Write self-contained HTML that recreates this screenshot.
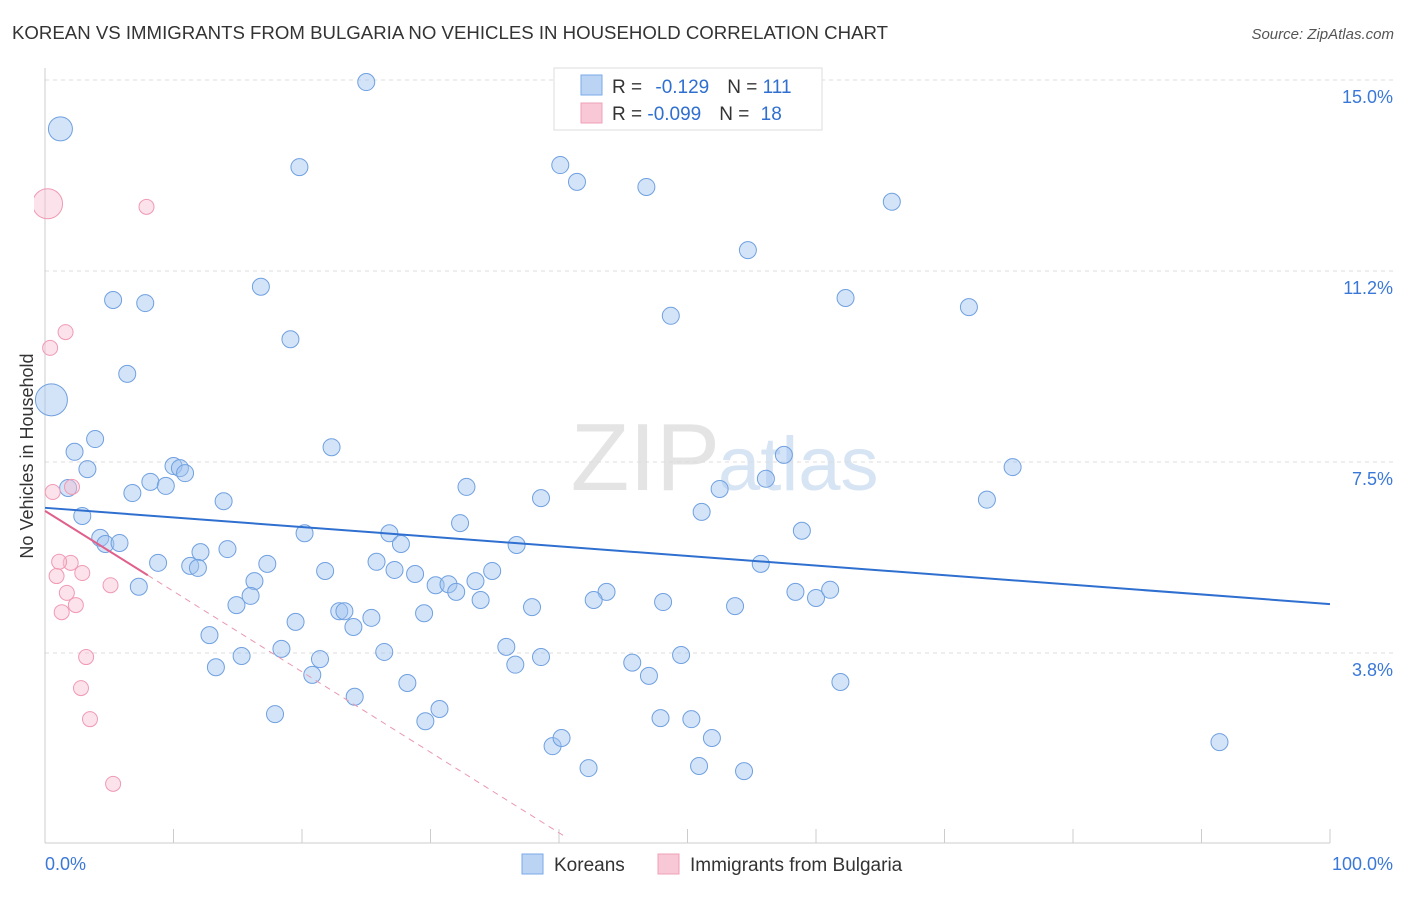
<!DOCTYPE html>
<html><head><meta charset="utf-8"><style>
body{margin:0;background:#fff;font-family:"Liberation Sans",sans-serif;}
svg text{font-family:"Liberation Sans",sans-serif;}
</style></head><body>
<svg id="chart" width="1406" height="892" xmlns="http://www.w3.org/2000/svg">
<defs><clipPath id="plotclip"><rect x="34" y="60" width="1370" height="784"/></clipPath></defs>
<text x="12" y="39" font-size="18" fill="#333" textLength="876" lengthAdjust="spacingAndGlyphs">KOREAN VS IMMIGRANTS FROM BULGARIA NO VEHICLES IN HOUSEHOLD CORRELATION CHART</text>
<text x="1394" y="39" font-size="15" fill="#555" font-style="italic" text-anchor="end">Source: ZipAtlas.com</text>
<text x="33" y="456" font-size="18" fill="#333" text-anchor="middle" transform="rotate(-90 33 456)">No Vehicles in Household</text>
<text x="720" y="490" font-size="96" fill="#e4e4e4" text-anchor="end" font-family="Liberation Serif">ZIP</text>
<text x="718" y="490" font-size="76" fill="#d6e4f4">atlas</text>
<g id="grid"></g><g id="axes"></g><g id="marks" clip-path="url(#plotclip)"></g>
<g>
<rect x="554" y="68" width="268" height="62" fill="#fff" stroke="#ddd"/>
<rect x="581" y="75" width="21" height="20" fill="#bcd4f4" stroke="#7aaae8"/>
<rect x="581" y="103" width="21" height="20" fill="#f9c8d6" stroke="#f0a0b8"/>
<text x="612" y="93" font-size="19" fill="#333">R = <tspan fill="#2f6fd0" dx="8">-0.129</tspan><tspan dx="18" fill="#333">N = </tspan><tspan fill="#2f6fd0">111</tspan></text>
<text x="612" y="120" font-size="19" fill="#333">R = <tspan fill="#2f6fd0">-0.099</tspan><tspan dx="18" fill="#333">N = </tspan><tspan fill="#2f6fd0" dx="6">18</tspan></text>
</g>
<g>
<rect x="522" y="854" width="21" height="20" fill="#bcd4f4" stroke="#7aaae8"/>
<text x="554" y="871" font-size="19" fill="#333">Koreans</text>
<rect x="658" y="854" width="21" height="20" fill="#f9c8d6" stroke="#f0a0b8"/>
<text x="690" y="871" font-size="19" fill="#333">Immigrants from Bulgaria</text>
</g>
</svg>
<script>
const yTicks=[15.0,11.25,7.5,3.75];
const yTickLabels=["15.0%","11.2%","7.5%","3.8%"];
const xTickCount=10;
const blueX=[1.2,25.0,19.8,40.1,41.4,46.8,65.9,54.7,5.3,7.8,16.8,62.3,71.9,48.7,19.1,6.4,0.5,3.9,2.3,22.3,3.3,57.5,75.3,1.8,6.8,8.2,9.4,10.0,10.5,10.9,13.9,32.8,38.6,52.5,56.1,73.3,2.9,32.3,51.1,4.3,4.7,5.8,20.2,26.8,27.7,36.7,58.9,8.8,12.1,14.2,11.3,11.9,17.3,21.8,25.8,27.2,28.8,34.8,55.7,7.3,16.3,30.4,31.4,32.0,33.5,33.9,43.7,42.7,58.4,60.0,61.1,14.9,16.0,22.9,23.3,25.4,24.0,29.5,37.9,48.1,53.7,19.5,12.8,18.4,21.4,15.3,13.3,20.8,26.4,35.9,36.6,38.6,45.7,47.0,49.5,61.9,28.2,24.1,17.9,29.6,30.7,47.9,50.3,51.9,39.5,40.2,91.4,42.3,50.9,54.4];
const blueY=[14.04,14.96,13.29,13.33,13.00,12.90,12.61,11.66,10.68,10.62,10.94,10.72,10.54,10.37,9.91,9.23,8.72,7.95,7.70,7.79,7.36,7.64,7.40,6.99,6.89,7.11,7.03,7.42,7.38,7.28,6.73,7.01,6.79,6.97,7.17,6.76,6.44,6.30,6.52,6.01,5.89,5.91,6.10,6.10,5.89,5.87,6.15,5.52,5.73,5.79,5.46,5.42,5.50,5.36,5.54,5.38,5.30,5.36,5.50,5.05,5.16,5.08,5.10,4.95,5.16,4.79,4.95,4.79,4.95,4.83,4.99,4.69,4.87,4.57,4.57,4.44,4.26,4.53,4.65,4.75,4.67,4.36,4.10,3.83,3.63,3.69,3.47,3.32,3.77,3.87,3.52,3.67,3.56,3.30,3.71,3.18,3.16,2.89,2.55,2.41,2.65,2.47,2.45,2.08,1.92,2.08,2.00,1.49,1.53,1.43];
const pinkX=[0.2,7.9,1.6,0.4,0.6,2.1,2.0,1.1,0.9,2.9,1.7,2.4,1.3,5.1,3.2,2.8,3.5,5.3];
const pinkY=[12.57,12.51,10.05,9.74,6.91,7.01,5.52,5.54,5.26,5.32,4.93,4.69,4.55,5.08,3.67,3.06,2.45,1.18];
const blueTrend=[6.60,4.71];
const pinkTrend=[6.54,-0.158];
const X=v=>45+v*12.85, Y=v=>80+(15-v)*50.93;
const NS="http://www.w3.org/2000/svg";
function mk(p,t,a){const e=document.createElementNS(NS,t);for(const k in a)e.setAttribute(k,a[k]);p.appendChild(e);return e;}
const grid=document.getElementById('grid'),axes=document.getElementById('axes'),marks=document.getElementById('marks');
yTicks.forEach((v,i)=>{
 const l=mk(grid,'line',{x1:45,x2:1394,y1:Y(v),y2:Y(v),stroke:'#ddd','stroke-dasharray':'4,4'});
 
 
 const t=mk(axes,'text',{x:1393,y:Y(v)+23,'font-size':18,fill:'#3a78d8','text-anchor':'end'});
 t.textContent=yTickLabels[i];
 
 
});
const ax=mk(axes,'line',{x1:45,x2:1330,y1:843,y2:843,stroke:'#ccc'});


const ay=mk(axes,'line',{x1:45,x2:45,y1:68,y2:843,stroke:'#ccc'});


for(let i=0;i<=xTickCount;i++){const x=X(i*100/xTickCount);
 const t=mk(axes,'line',{x1:x,x2:x,y1:829,y2:843,stroke:'#ccc'});
 
 }
const xl=mk(axes,'text',{x:45,y:870,'font-size':18,fill:'#3a78d8'});xl.textContent='0.0%';


const xr=mk(axes,'text',{x:1393,y:870,'font-size':18,fill:'#3a78d8','text-anchor':'end'});xr.textContent='100.0%';


blueX.forEach((x,i)=>{let r=8.5;if(i===0)r=12;if(i===16)r=16;
 const c=mk(marks,'circle',{cx:X(x),cy:Y(blueY[i]),r:r,fill:'rgba(160,196,240,0.45)',stroke:'#6fa0e0','stroke-width':1});
 
 });
pinkX.forEach((x,i)=>{let r=i===0?15:7.5;
 const c=mk(marks,'circle',{cx:X(x),cy:Y(pinkY[i]),r:r,fill:'rgba(248,190,208,0.45)',stroke:'#f09ab4','stroke-width':1});
 
 });
const bl=mk(marks,'line',{x1:X(0),y1:Y(blueTrend[0]),x2:X(100),y2:Y(blueTrend[1]),stroke:'#2f6fd0','stroke-width':2});


const pe=40.5;
const pd=mk(marks,'line',{x1:X(8),y1:Y(pinkTrend[0]+pinkTrend[1]*8),x2:X(pe),y2:Y(pinkTrend[0]+pinkTrend[1]*pe),stroke:'#e898b0','stroke-width':1,'stroke-dasharray':'6,5'});


const pl=mk(marks,'line',{x1:X(0),y1:Y(pinkTrend[0]),x2:X(8),y2:Y(pinkTrend[0]+pinkTrend[1]*8),stroke:'#e0608a','stroke-width':2});


</script>
</body></html>
